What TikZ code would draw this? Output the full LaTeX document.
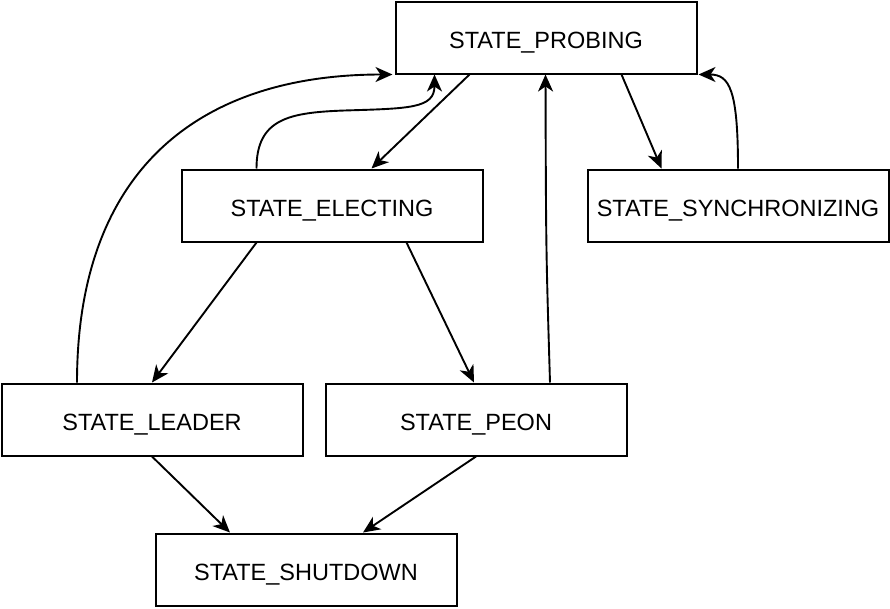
\documentclass[tikz,border=0pt]{standalone}
\usepackage{fontspec}
\setmainfont{Liberation Sans}
\usetikzlibrary{arrows.meta,calc}
\begin{document}
\begin{tikzpicture}[x=1pt,y=-1pt,
  statebox/.style={draw=black,line width=2pt,minimum width=301pt,minimum height=72pt,inner sep=0pt,text height=22.8pt,text depth=0pt,font=\fontsize{23.5}{27}\selectfont},
  conn/.style={line width=1.9pt,-{Stealth[length=17pt,width=15pt,inset=5pt]}}]
\useasboundingbox (0,0) rectangle (890,608);
\node[statebox] (prob)  at (546,37.5) {STATE\_PROBING};
\node[statebox] (elect) at (332,205.5) {STATE\_ELECTING};
\node[statebox] (sync)  at (738,205.5) {STATE\_SYNCHRONIZING};
\node[statebox] (lead)  at (152,419.5) {STATE\_LEADER};
\node[statebox] (peon)  at (476,419.5) {STATE\_PEON};
\node[statebox] (shut)  at (306,569.5) {STATE\_SHUTDOWN};
% probing -> electing
\draw[conn] ([xshift=75pt]prob.south west) -- ([xshift=191pt]elect.north west);
% electing -> probing (curved)
\draw[conn] ([xshift=76pt]elect.north west)
  .. controls ([xshift=76pt,yshift=50pt]elect.north west) and ([xshift=-105pt,yshift=-38pt]prob.south west)
  .. ([xshift=-50pt,yshift=-36pt]prob.south west)
  .. controls ([xshift=15pt,yshift=-34pt]prob.south west) and ([xshift=40pt,yshift=-34pt]prob.south west)
  .. ([xshift=40pt]prob.south west);
% leader -> probing (curved)
\draw[conn] ([xshift=-75pt]lead.north) .. controls ([xshift=-75pt,yshift=213pt]lead.north) and ([xshift=-195pt]prob.south west) .. ([xshift=-2pt]prob.south west);
% peon -> probing
\draw[conn] ([xshift=74pt]peon.north) .. controls ([xshift=70pt,yshift=133pt]peon.north) .. ([xshift=151pt]prob.south west);
% probing -> synchronizing
\draw[conn] ([xshift=227pt]prob.south west) -- ([xshift=75pt]sync.north west);
% synchronizing -> probing
\draw[conn] (sync.north) .. controls ([yshift=79pt]sync.north) and ([xshift=32pt]prob.south east) .. ([xshift=1pt]prob.south east);
% electing -> leader / peon
\draw[conn] ([xshift=76pt]elect.south west) -- (lead.north);
\draw[conn] ([xshift=226pt]elect.south west) -- ([xshift=-2pt]peon.north);
% leader / peon -> shutdown
\draw[conn] (lead.south) -- ([xshift=-76pt]shut.north);
\draw[conn] (peon.south) -- ([xshift=57pt]shut.north);
\end{tikzpicture}
\end{document}
